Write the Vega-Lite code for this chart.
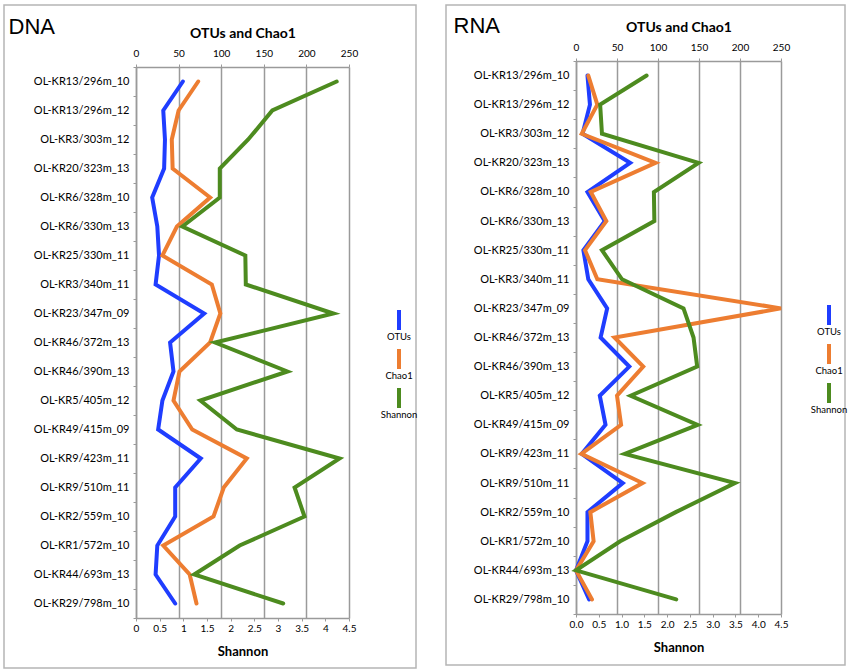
{
  "$schema": "https://vega.github.io/schema/vega-lite/v6.json",
  "padding": {"left": 3, "top": -2, "right": 3, "bottom": 3},
  "datasets": {
    "rows": [
      {"panel": "DNA", "idx": 1, "sample": "OL-KR13/296m_10", "OTUs": 55, "Chao1": 73, "Shannon": 4.24},
      {"panel": "DNA", "idx": 2, "sample": "OL-KR13/296m_12", "OTUs": 32, "Chao1": 50, "Shannon": 2.88},
      {"panel": "DNA", "idx": 3, "sample": "OL-KR3/303m_12", "OTUs": 34, "Chao1": 42, "Shannon": 2.37},
      {"panel": "DNA", "idx": 4, "sample": "OL-KR20/323m_13", "OTUs": 33, "Chao1": 43, "Shannon": 1.77},
      {"panel": "DNA", "idx": 5, "sample": "OL-KR6/328m_10", "OTUs": 19, "Chao1": 87, "Shannon": 1.77},
      {"panel": "DNA", "idx": 6, "sample": "OL-KR6/330m_13", "OTUs": 25, "Chao1": 48, "Shannon": 0.98},
      {"panel": "DNA", "idx": 7, "sample": "OL-KR25/330m_11", "OTUs": 27, "Chao1": 31, "Shannon": 2.31},
      {"panel": "DNA", "idx": 8, "sample": "OL-KR3/340m_11", "OTUs": 23, "Chao1": 89, "Shannon": 2.32},
      {"panel": "DNA", "idx": 9, "sample": "OL-KR23/347m_09", "OTUs": 80, "Chao1": 99, "Shannon": 4.17},
      {"panel": "DNA", "idx": 10, "sample": "OL-KR46/372m_13", "OTUs": 40, "Chao1": 87, "Shannon": 1.67},
      {"panel": "DNA", "idx": 11, "sample": "OL-KR46/390m_13", "OTUs": 44, "Chao1": 51, "Shannon": 3.2},
      {"panel": "DNA", "idx": 12, "sample": "OL-KR5/405m_12", "OTUs": 31, "Chao1": 44, "Shannon": 1.36},
      {"panel": "DNA", "idx": 13, "sample": "OL-KR49/415m_09", "OTUs": 26, "Chao1": 66, "Shannon": 2.13},
      {"panel": "DNA", "idx": 14, "sample": "OL-KR9/423m_11", "OTUs": 76, "Chao1": 130, "Shannon": 4.3},
      {"panel": "DNA", "idx": 15, "sample": "OL-KR9/510m_11", "OTUs": 46, "Chao1": 103, "Shannon": 3.35},
      {"panel": "DNA", "idx": 16, "sample": "OL-KR2/559m_10", "OTUs": 46, "Chao1": 91, "Shannon": 3.56},
      {"panel": "DNA", "idx": 17, "sample": "OL-KR1/572m_10", "OTUs": 25, "Chao1": 32, "Shannon": 2.19},
      {"panel": "DNA", "idx": 18, "sample": "OL-KR44/693m_13", "OTUs": 23, "Chao1": 63, "Shannon": 1.23},
      {"panel": "DNA", "idx": 19, "sample": "OL-KR29/798m_10", "OTUs": 46, "Chao1": 71, "Shannon": 3.11},
      {"panel": "RNA", "idx": 1, "sample": "OL-KR13/296m_10", "OTUs": 14, "Chao1": 15, "Shannon": 1.55},
      {"panel": "RNA", "idx": 2, "sample": "OL-KR13/296m_12", "OTUs": 17, "Chao1": 26, "Shannon": 0.53},
      {"panel": "RNA", "idx": 3, "sample": "OL-KR3/303m_12", "OTUs": 8, "Chao1": 7, "Shannon": 0.57},
      {"panel": "RNA", "idx": 4, "sample": "OL-KR20/323m_13", "OTUs": 66, "Chao1": 97, "Shannon": 2.69},
      {"panel": "RNA", "idx": 5, "sample": "OL-KR6/328m_10", "OTUs": 14, "Chao1": 18, "Shannon": 1.71},
      {"panel": "RNA", "idx": 6, "sample": "OL-KR6/330m_13", "OTUs": 35, "Chao1": 37, "Shannon": 1.72},
      {"panel": "RNA", "idx": 7, "sample": "OL-KR25/330m_11", "OTUs": 9, "Chao1": 11, "Shannon": 0.57},
      {"panel": "RNA", "idx": 8, "sample": "OL-KR3/340m_11", "OTUs": 15, "Chao1": 26, "Shannon": 1.01},
      {"panel": "RNA", "idx": 9, "sample": "OL-KR23/347m_09", "OTUs": 38, "Chao1": 250, "Shannon": 2.36},
      {"panel": "RNA", "idx": 10, "sample": "OL-KR46/372m_13", "OTUs": 30, "Chao1": 47, "Shannon": 2.58},
      {"panel": "RNA", "idx": 11, "sample": "OL-KR46/390m_13", "OTUs": 65, "Chao1": 82, "Shannon": 2.66},
      {"panel": "RNA", "idx": 12, "sample": "OL-KR5/405m_12", "OTUs": 29, "Chao1": 50, "Shannon": 1.2},
      {"panel": "RNA", "idx": 13, "sample": "OL-KR49/415m_09", "OTUs": 36, "Chao1": 55, "Shannon": 2.67},
      {"panel": "RNA", "idx": 14, "sample": "OL-KR9/423m_11", "OTUs": 7, "Chao1": 6.5, "Shannon": 1.07},
      {"panel": "RNA", "idx": 15, "sample": "OL-KR9/510m_11", "OTUs": 57, "Chao1": 81, "Shannon": 3.49},
      {"panel": "RNA", "idx": 16, "sample": "OL-KR2/559m_10", "OTUs": 14, "Chao1": 17.5, "Shannon": 2.19},
      {"panel": "RNA", "idx": 17, "sample": "OL-KR1/572m_10", "OTUs": 14, "Chao1": 21.5, "Shannon": 0.97},
      {"panel": "RNA", "idx": 18, "sample": "OL-KR44/693m_13", "OTUs": 0, "Chao1": 0, "Shannon": 0},
      {"panel": "RNA", "idx": 19, "sample": "OL-KR29/798m_10", "OTUs": 16, "Chao1": 19.5, "Shannon": 2.2}
    ]
  },
  "data": {"name": "rows"},
  "transform": [
    {"fold": ["OTUs", "Chao1", "Shannon"], "as": ["series", "value"]}
  ],
  "hconcat": [
    {
      "width": 412,
      "height": 663,
      "transform": [{"filter": "datum.panel === 'DNA'"}],
      "encoding": {
        "y": {
          "field": "sample", "type": "nominal", "sort": {"field": "idx"},
          "scale": {"range": [62, 613]},
          "axis": {"title": "DNA", "titleX": -128, "titleY": 28, "offset": -132, "tickBand": "extent"}
        },
        "order": {"field": "idx", "type": "quantitative"}
      },
      "layer": [
        {
          "transform": [{"filter": "datum.series !== 'Shannon'"}],
          "mark": {"type": "line", "strokeWidth": 4},
          "encoding": {
            "x": {
              "field": "value", "type": "quantitative",
              "scale": {"domain": [0, 250], "range": [132, 345], "nice": false},
              "axis": {"orient": "top", "offset": -62, "title": "OTUs and Chao1", "values": [0, 50, 100, 150, 200, 250], "grid": true, "labelPadding": 6, "titlePadding": 8}
            },
            "color": {
              "field": "series", "type": "nominal",
              "scale": {"domain": ["OTUs", "Chao1", "Shannon"], "range": ["#1f3dff", "#ed7d31", "#4d8b1f"]},
              "legend": {"orient": "none", "legendX": 383, "legendY": 315}
            }
          }
        },
        {
          "transform": [{"filter": "datum.series === 'Shannon'"}],
          "mark": {"type": "line", "strokeWidth": 4},
          "encoding": {
            "x": {
              "field": "value", "type": "quantitative",
              "scale": {"domain": [0, 4.5], "range": [132, 345], "nice": false},
              "axis": {"orient": "bottom", "offset": -50, "title": "Shannon", "values": [0, 0.5, 1, 1.5, 2, 2.5, 3, 3.5, 4, 4.5], "format": "~g", "grid": false, "labelPadding": 2, "titlePadding": 12, "labelOverlap": false}
            },
            "color": {
              "field": "series", "type": "nominal",
              "legend": {"orient": "none", "legendX": 383, "legendY": 315}
            }
          }
        }
      ],
      "resolve": {"scale": {"x": "independent"}, "axis": {"x": "independent"}}
    },
    {
      "width": 399,
      "height": 660,
      "transform": [{"filter": "datum.panel === 'RNA'"}],
      "encoding": {
        "y": {
          "field": "sample", "type": "nominal", "sort": {"field": "idx"},
          "scale": {"range": [56, 609]},
          "axis": {"title": "RNA", "titleX": -123, "titleY": 27, "offset": -130, "tickBand": "extent"}
        },
        "order": {"field": "idx", "type": "quantitative"}
      },
      "layer": [
        {
          "transform": [{"filter": "datum.series !== 'Shannon'"}],
          "mark": {"type": "line", "strokeWidth": 4},
          "encoding": {
            "x": {
              "field": "value", "type": "quantitative",
              "scale": {"domain": [0, 250], "range": [130, 335], "nice": false},
              "axis": {"orient": "top", "offset": -56, "title": "OTUs and Chao1", "values": [0, 50, 100, 150, 200, 250], "grid": true, "labelPadding": 6, "titlePadding": 8}
            },
            "color": {
              "field": "series", "type": "nominal",
              "legend": {"orient": "none", "legendX": 371, "legendY": 310}
            }
          }
        },
        {
          "transform": [{"filter": "datum.series === 'Shannon'"}],
          "mark": {"type": "line", "strokeWidth": 4},
          "encoding": {
            "x": {
              "field": "value", "type": "quantitative",
              "scale": {"domain": [0, 4.5], "range": [130, 335], "nice": false},
              "axis": {"orient": "bottom", "offset": -51, "title": "Shannon", "values": [0, 0.5, 1, 1.5, 2, 2.5, 3, 3.5, 4, 4.5], "format": ".1f", "grid": false, "labelPadding": 2, "titlePadding": 12, "labelOverlap": false}
            },
            "color": {
              "field": "series", "type": "nominal",
              "legend": {"orient": "none", "legendX": 371, "legendY": 310}
            }
          }
        }
      ],
      "resolve": {"scale": {"x": "independent"}, "axis": {"x": "independent"}}
    }
  ],
  "spacing": 30,
  "bounds": "flush",
  "resolve": {"legend": {"color": "independent"}},
  "config": {
    "font": "Lato",
    "background": "white",
    "view": {"stroke": "#b5b5b5", "strokeWidth": 1.5},
    "axis": {
      "domainColor": "#9a9a9a",
      "domainWidth": 1.5,
      "gridColor": "#9a9a9a",
      "gridWidth": 1.5,
      "tickColor": "#9a9a9a",
      "tickSize": 3,
      "labelColor": "black",
      "labelFontSize": 10,
      "titleFontSize": 14,
      "titleFontWeight": "bold",
      "titleColor": "black"
    },
    "axisX": {"labelFlush": false},
    "axisY": {
      "labelFontSize": 11,
      "labelPadding": 4,
      "titleAngle": 0,
      "titleAlign": "left",
      "titleBaseline": "alphabetic",
      "titleFont": "Liberation Sans",
      "titleFontSize": 22,
      "titleFontWeight": "normal"
    },
    "axisBottom": {"titleFontSize": 13},
    "legend": {
      "title": null,
      "padding": 0,
      "symbolType": "M0,-2.2L0,-0.2",
      "symbolSize": 400,
      "symbolStrokeWidth": 4,
      "labelAlign": "center",
      "labelBaseline": "top",
      "labelOffset": -12,
      "labelFontSize": 9.5,
      "labelColor": "black",
      "rowPadding": -1
    },
    "line": {"strokeCap": "round"}
  }
}
